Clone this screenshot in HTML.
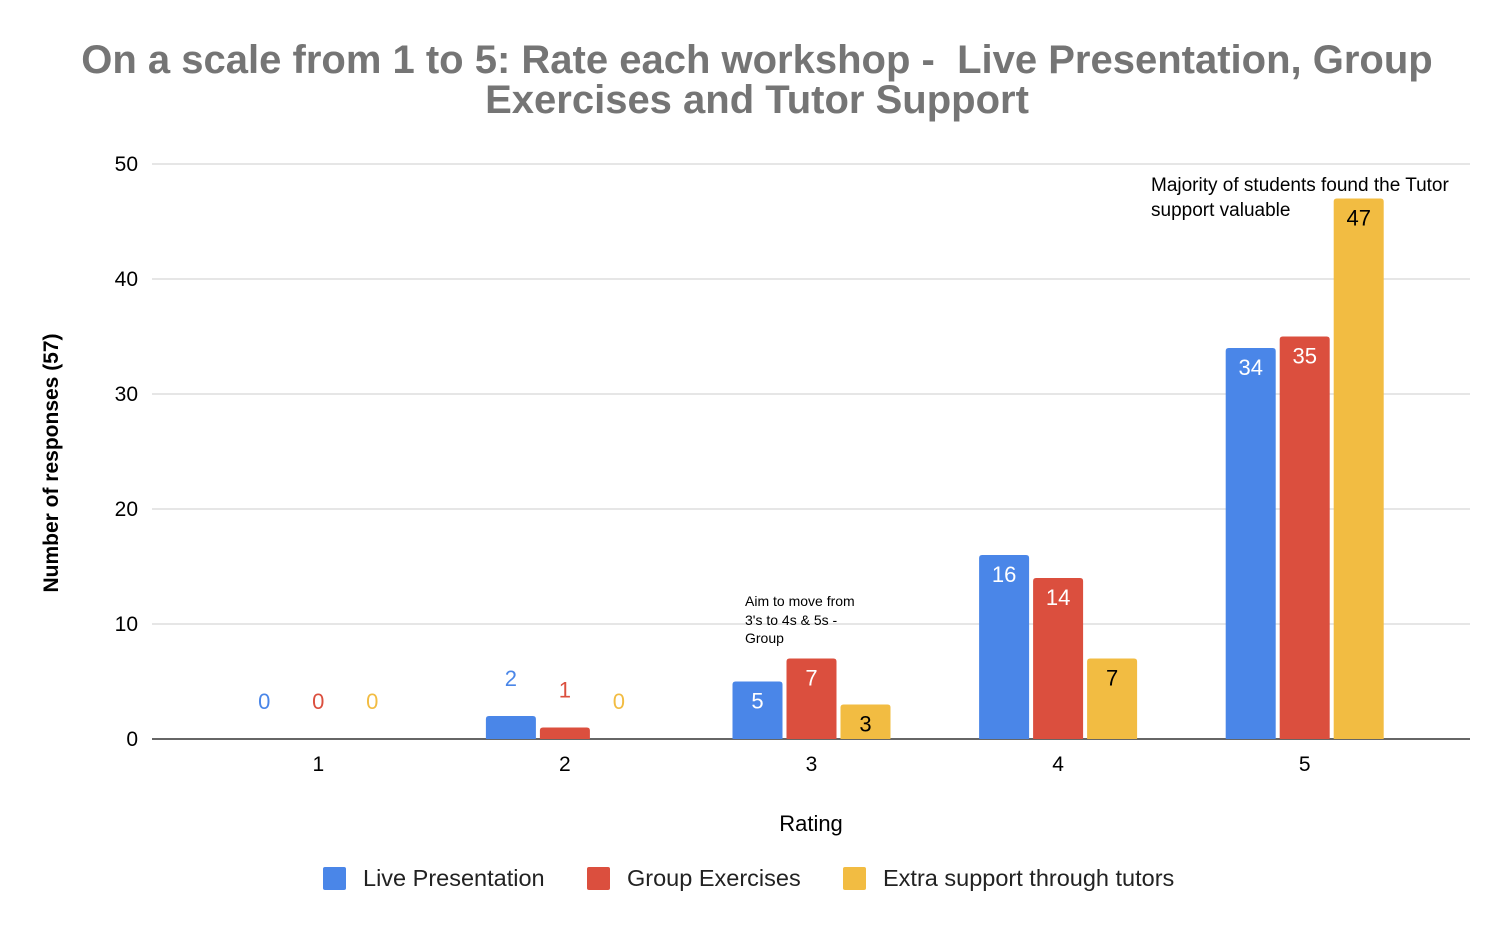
<!DOCTYPE html>
<html><head><meta charset="utf-8"><style>
html,body{margin:0;padding:0;background:#fff;}
svg{display:block;font-family:"Liberation Sans",Arial,sans-serif;}
</style></head><body>
<svg id="chart" width="1512" height="932" viewBox="0 0 1512 932">
<text x="757" y="73" text-anchor="middle" font-size="40" font-weight="bold" fill="#757575" style="white-space:pre">On a scale from 1 to 5: Rate each workshop -  Live Presentation, Group</text>
<text x="757" y="113" text-anchor="middle" font-size="40" font-weight="bold" fill="#757575">Exercises and Tutor Support</text>
<g id="grid"></g>
<g id="bars"></g>
<g id="labels"></g>
<text x="58" y="463" transform="rotate(-90 58 463)" text-anchor="middle" font-size="21" font-weight="bold" fill="#000">Number of responses (57)</text>
<text x="811" y="831" text-anchor="middle" font-size="22" fill="#000">Rating</text>
<g font-size="14" fill="#000">
<text x="745" y="606">Aim to move from</text>
<text x="745" y="625">3's to 4s &amp; 5s -</text>
<text x="745" y="643">Group</text>
</g>
<g font-size="19" fill="#000">
<text x="1151" y="191">Majority of students found the Tutor</text>
<text x="1151" y="216">support valuable</text>
</g>
<g id="legend"></g>
</svg>
<script>
const categories = ["1","2","3","4","5"];
const seriesNames = ["Live Presentation","Group Exercises","Extra support through tutors"];
const livePresentation = [0,2,5,16,34];
const groupExercises = [0,1,7,14,35];
const extraSupport = [0,0,3,7,47];
const yTicks = [0,10,20,30,40,50];
const colors = ["#4a86e8","#db4f3e","#f2bc42"];
const insideColors = ["#fff","#fff","#000"];
const series = [livePresentation, groupExercises, extraSupport];
const NS = "http://www.w3.org/2000/svg";
const gx0 = 152, gx1 = 1470, bx0 = 195, bx1 = 1428, yBase = 739, yTop = 164, yMax = 50;
const yS = v => yBase - (yBase - yTop) * v / yMax;
const band = (bx1 - bx0) / categories.length;
const xC = i => bx0 + band * (i + 0.5);
const barW = 50, step = 54;
function mk(tag, attrs, parent){const e=document.createElementNS(NS,tag);for(const k in attrs)e.setAttribute(k,attrs[k]);parent.appendChild(e);return e;}
const grid = document.getElementById('grid');
yTicks.forEach(t=>{
  const l = mk('line',{x1:gx0,x2:gx1,y1:yS(t),y2:yS(t),stroke:t===0?'#333':'#ccc','stroke-width':t===0?1.5:1},grid);
  
  
  const tx = mk('text',{x:138,y:yS(t)+7,'text-anchor':'end','font-size':21,fill:'#000'},grid);
  tx.textContent = t;
  
  
});
categories.forEach((c,i)=>{
  const tx = mk('text',{x:xC(i),y:771,'text-anchor':'middle','font-size':21,fill:'#000'},grid);
  tx.textContent = c;
  
  
});
const bars = document.getElementById('bars'), labels = document.getElementById('labels');
series.forEach((vals,s)=>{
  vals.forEach((v,i)=>{
    const cx = xC(i) + (s-1)*step;
    const top = yS(v), h = yBase - top;
    if (h > 0) {
      const r = Math.min(3,h);
      const p = mk('path',{d:`M${cx-barW/2},${yBase} V${top+r} Q${cx-barW/2},${top} ${cx-barW/2+r},${top} H${cx+barW/2-r} Q${cx+barW/2},${top} ${cx+barW/2},${top+r} V${yBase} Z`,fill:colors[s]},bars);
      
      
    }
    const inside = h > 30;
    const ly = inside ? top + 27 : top - 30;
    const t = mk('text',{x:cx,y:ly,'text-anchor':'middle','font-size':22,fill:inside?insideColors[s]:colors[s]},labels);
    t.textContent = v;
    
    
  });
});
const legend = document.getElementById('legend');
const lx = [323, 587, 843];
seriesNames.forEach((n,s)=>{
  const g = mk('g',{},legend);
  
  
  mk('rect',{x:lx[s],y:867,width:23,height:23,rx:2,fill:colors[s]},g);
  const t = mk('text',{x:lx[s]+40,y:886,'font-size':23.5,fill:'#222'},g);
  t.textContent = n;
});
</script>
</body></html>
